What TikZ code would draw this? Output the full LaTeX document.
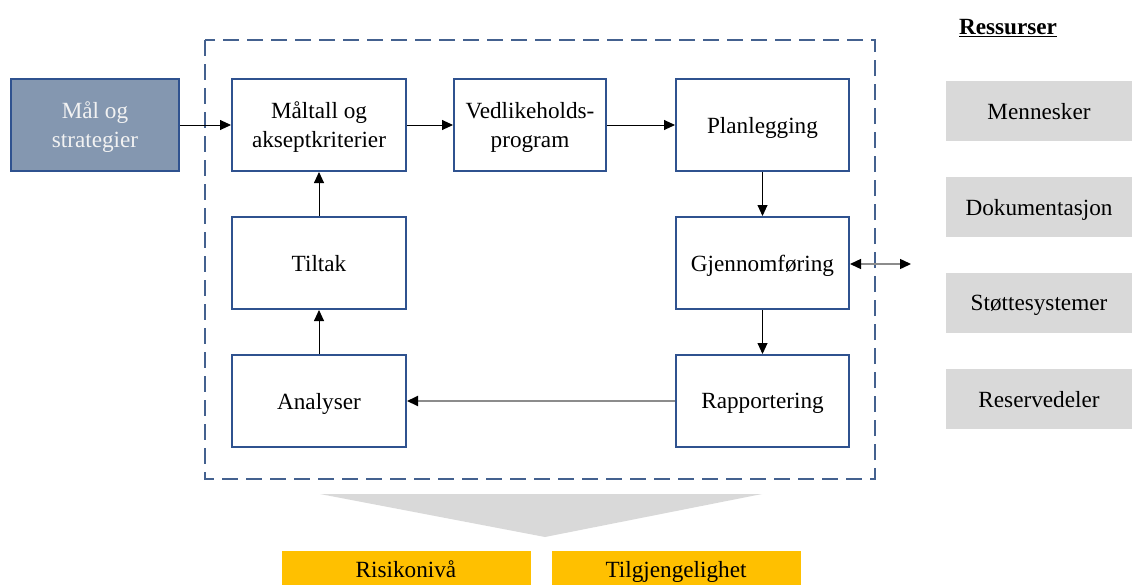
\documentclass[tikz,border=0pt]{standalone}
\usepackage{fontspec}
\setmainfont{Liberation Serif}
\usetikzlibrary{arrows.meta}
\definecolor{boxblue}{HTML}{2F528F}
\definecolor{framblue}{HTML}{44618F}
\definecolor{goalfill}{HTML}{8497B0}
\definecolor{resgray}{HTML}{D9D9D9}
\definecolor{outgold}{HTML}{FFC000}
\definecolor{linkgray}{HTML}{8C8C8C}
\begin{document}
\begin{tikzpicture}[x=1pt,y=-1pt,
  txt/.style={font=\fontsize{23.2}{29}\selectfont, align=center, inner sep=0pt, text depth=0pt},
  stepbox/.style={txt, draw=boxblue, line width=2pt, fill=white,
    minimum width=174pt, minimum height=92pt},
  goalbox/.style={stepbox, fill=goalfill, text=white!95!black, minimum width=168pt},
  resbox/.style={txt, fill=resgray, minimum width=186pt, minimum height=60pt},
  outbox/.style={txt, fill=outgold, minimum width=249pt, minimum height=36pt},
  arr/.style={-{Triangle[length=11pt,width=10pt]}, line width=0.9pt},
  grayarr/.style={arr, draw=linkgray, line width=2pt},
]
\useasboundingbox (0,0) rectangle (1132,584);
\clip (0,0) rectangle (1132,584);

% dashed boundary of the maintenance loop
\draw[framblue, line width=2.4pt, dash pattern=on 16pt off 8pt]
  (205,40) rectangle (875,479);

% process steps
\node[goalbox] (mal) at (95,125) {Mål og\\strategier};
\node[stepbox] (maltall) at (319,125) {Måltall og\\akseptkriterier};
\node[stepbox, minimum width=152pt] (vedl) at (530,125) {Vedlikeholds-\\program};
\node[stepbox, minimum width=173pt] (plan) at (762.5,125) {Planlegging};
\node[stepbox] (tiltak) at (319,263) {Tiltak};
\node[stepbox, minimum width=173pt] (gjen) at (762.5,263) {Gjennomføring};
\node[stepbox] (anal) at (319,401) {Analyser};
\node[stepbox, minimum width=173pt] (rapp) at (762.5,401) {Rapportering};

% connectors
\draw[arr] (mal) -- (maltall);
\draw[arr] (maltall) -- (vedl);
\draw[arr] (vedl) -- (plan);
\draw[arr] (plan) -- (gjen);
\draw[arr] (gjen) -- (rapp);
\draw[grayarr, -{Triangle[length=11pt,width=10pt,black]}] (rapp) -- (anal);
\draw[arr] (anal) -- (tiltak);
\draw[arr] (tiltak) -- (maltall);

% link to the resources
\coordinate (resend) at (911,264);
\draw[arr, draw=linkgray, line width=1.4pt,
  {Triangle[length=11pt,width=10pt,black]}-{Triangle[length=11pt,width=10pt,black]}]
  (gjen.east |- resend) -- (resend);

% resources
\node[txt, font=\fontsize{23.2}{29}\selectfont\bfseries] (reshead) at (1008,27) {\underline{Ressurser}};
\node[resbox] (menn) at (1039,111) {Mennesker};
\node[resbox] (dok) at (1039,207) {Dokumentasjon};
\node[resbox] (stotte) at (1039,303) {Støttesystemer};
\node[resbox] (reserv) at (1039,399) {Reservedeler};

% funnel towards the outcomes
\fill[resgray] (320,494) -- (762,494) -- (545,537) -- cycle;

% outcomes
\node[outbox] (risiko) at (406,569) {Risikonivå};
\node[outbox] (tilgj) at (676,569) {Tilgjengelighet};
\end{tikzpicture}
\end{document}
